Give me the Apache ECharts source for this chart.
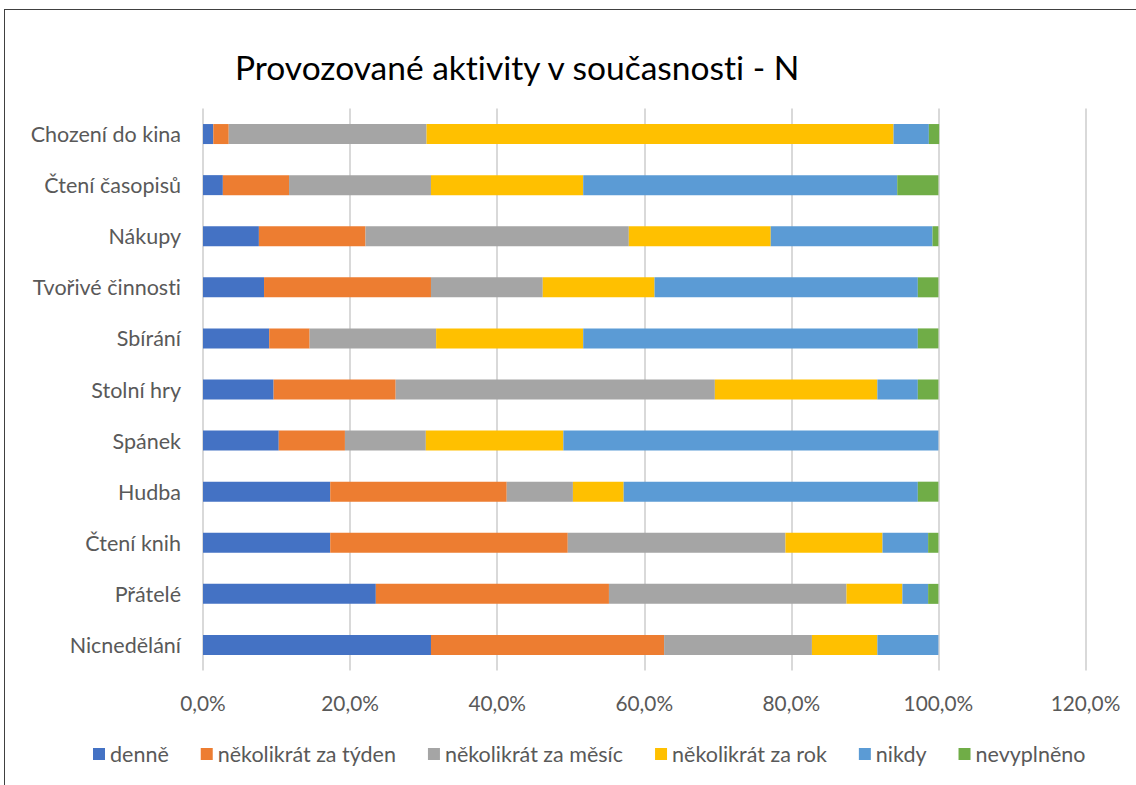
<!DOCTYPE html>
<html>
<head>
<meta charset="utf-8">
<script src="https://cdn.jsdelivr.net/npm/echarts@6/dist/echarts.min.js"></script>
<style>
html,body{margin:0;padding:0;background:#fff;}
#frame{position:absolute;left:4px;top:9px;width:1140px;height:790px;border-left:1.5px solid #404040;border-top:1.5px solid #404040;}
#chart{position:absolute;left:0;top:0;width:1136px;height:785px;}
#chart text{font-variant-ligatures:none;font-feature-settings:"liga" 0,"clig" 0;}
</style>
</head>
<body>
<div id="frame"></div>
<div id="chart"></div>
<script>
// categories listed bottom-to-top (ECharts category axis starts at bottom)
const categories = ['Nicnedělání','Přátelé','Čtení knih','Hudba','Spánek','Stolní hry','Sbírání','Tvořivé činnosti','Nákupy','Čtení časopisů','Chození do kina'];
const seriesNames = ['denně','několikrát za týden','několikrát za měsíc','několikrát za rok','nikdy','nevyplněno'];
const denne      = [31.0, 23.5, 17.3, 17.3, 10.3,  9.6,  9.0,  8.3,  7.6,  2.7,  1.4];
const tyden      = [31.7, 31.7, 32.3, 24.0,  9.0, 16.6,  5.5, 22.7, 14.5,  9.0,  2.1];
const mesic      = [20.1, 32.3, 29.6,  9.0, 11.0, 43.4, 17.2, 15.2, 35.8, 19.3, 26.9];
const rok        = [ 8.9,  7.6, 13.2,  6.9, 18.7, 22.1, 20.0, 15.2, 19.3, 20.7, 63.5];
const nikdy      = [ 8.3,  3.5,  6.2, 40.0, 51.0,  5.5, 45.5, 35.8, 22.0, 42.7,  4.8];
const nevyplneno = [ 0.0,  1.4,  1.4,  2.8,  0.0,  2.8,  2.8,  2.8,  0.8,  5.6,  1.4];
const xTicks = [0, 20, 40, 60, 80, 100, 120];
const colors = ['#4472C4','#ED7D31','#A5A5A5','#FFC000','#5B9BD5','#70AD47'];
const allData = [denne, tyden, mesic, rok, nikdy, nevyplneno];

const chart = echarts.init(document.getElementById('chart'), null, {renderer: 'svg'});
const font = 'Lato, "Open Sans", sans-serif';
chart.setOption({
  animation: false,
  color: colors,
  title: {
    text: 'Provozované aktivity v současnosti - N',
    left: 230, top: 45,
    textStyle: {fontFamily: font, fontSize: 33.5, fontWeight: 'normal', color: '#000'}
  },
  legend: {
    data: seriesNames,
    bottom: 15, left: 88,
    icon: 'rect', itemWidth: 12, itemHeight: 12, itemGap: 32,
    textStyle: {fontFamily: font, fontSize: 21.5, color: '#595959'}
  },
  grid: {left: 203, right: 50.5, top: 108.5, bottom: 114.5, containLabel: false},
  xAxis: {
    type: 'value', min: xTicks[0], max: xTicks[xTicks.length-1], interval: 20,
    axisLine: {show: false}, axisTick: {show: false},
    splitLine: {lineStyle: {color: '#D9D9D9', width: 2}},
    axisLabel: {
      margin: 21, fontFamily: font, fontSize: 20.8, color: '#595959',
      formatter: v => v.toFixed(1).replace('.', ',') + '%'
    }
  },
  yAxis: {
    type: 'category', data: categories,
    axisLine: {show: false}, axisTick: {show: false},
    axisLabel: {margin: 22, fontFamily: font, fontSize: 21.5, color: '#595959'}
  },
  series: seriesNames.map((n, i) => ({
    name: n, type: 'bar', stack: 'total', barWidth: 20,
    data: allData[i],
    itemStyle: {color: colors[i]}
  }))
});
</script>
</body>
</html>
